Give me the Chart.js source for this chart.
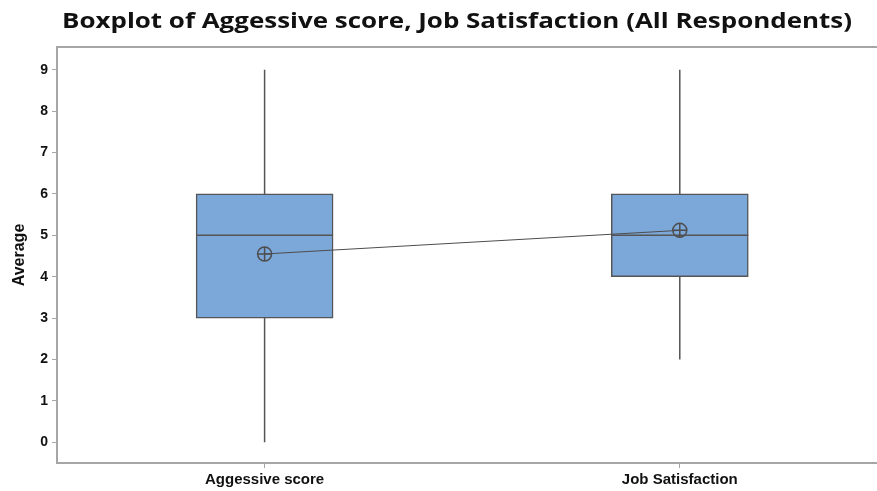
<!DOCTYPE html>
<html>
<head>
<meta charset="utf-8">
<script src="https://cdn.jsdelivr.net/npm/chart.js@4/dist/chart.umd.min.js"></script>
<style>
  html, body { margin: 0; padding: 0; background: #fff; }
  canvas { display: block; }
</style>
</head>
<body>
<canvas id="box" width="877" height="491"></canvas>
<script>
// Boxplot summary values
const categories  = ['Aggessive score', 'Job Satisfaction'];
const whiskerLow  = [0, 2];
const q1          = [3, 4];
const medians     = [5, 5];
const q3          = [6, 6];
const whiskerHigh = [9, 9];
const means       = [4.55, 5.12];
const yTicks      = [0, 1, 2, 3, 4, 5, 6, 7, 8, 9];

const TITLE = 'Boxplot of Aggessive score, Job Satisfaction (All Respondents)';

const STYLE = {
  fill:   '#7ba7d9',
  stroke: '#555555',
  frame:  '#a6a6a6',
  text:   '#111111',
  font:   "'Liberation Sans', Arial, sans-serif",
};

const meanPoints = categories.map((c, i) => ({ x: i + 1, y: means[i] }));

// whiskers + median lines, drawn right after the boxes using the bar geometry
const boxExtras = {
  id: 'boxExtras',
  afterDatasetDraw(chart, args) {
    if (args.index !== 2) return;
    const ctx = chart.ctx;
    const y = chart.scales.y;
    const meta = chart.getDatasetMeta(2);
    ctx.save();
    ctx.strokeStyle = STYLE.stroke;
    ctx.lineWidth = 1.5;
    meta.data.forEach((bar, i) => {
      const half = bar.width / 2;
      ctx.beginPath();
      ctx.moveTo(bar.x, y.getPixelForValue(q3[i]));
      ctx.lineTo(bar.x, y.getPixelForValue(whiskerHigh[i]));
      ctx.moveTo(bar.x, y.getPixelForValue(q1[i]));
      ctx.lineTo(bar.x, y.getPixelForValue(whiskerLow[i]));
      const my = y.getPixelForValue(medians[i]);
      ctx.moveTo(bar.x - half, my);
      ctx.lineTo(bar.x + half, my);
      ctx.stroke();
    });
    ctx.restore();
  }
};

// top frame line and the (wide) title
const frame = {
  id: 'frame',
  afterDraw(chart) {
    const { ctx, chartArea } = chart;
    ctx.save();
    ctx.strokeStyle = STYLE.frame;
    ctx.lineWidth = 2;
    ctx.beginPath();
    ctx.moveTo(chartArea.left, chartArea.top);
    ctx.lineTo(chart.width, chartArea.top);
    ctx.stroke();

    ctx.fillStyle = STYLE.text;
    ctx.font = "bold 22px 'Open Sans', sans-serif";
    ctx.textAlign = 'left';
    ctx.textBaseline = 'alphabetic';
    const w = ctx.measureText(TITLE).width;
    const sx = 790 / w;
    ctx.translate(62, 28);
    ctx.scale(sx, 1);
    ctx.fillText(TITLE, 0, 0);
    ctx.restore();
  }
};

new Chart(document.getElementById('box'), {
  type: 'bar',
  data: {
    datasets: [
      {
        type: 'line',
        data: meanPoints,
        borderColor: '#4d4d4d',
        borderWidth: 1,
        pointStyle: 'circle',
        pointRadius: 7,
        pointBorderWidth: 1.5,
        pointBorderColor: '#4d4d4d',
        pointBackgroundColor: 'rgba(0,0,0,0)',
        order: 0,
      },
      {
        type: 'line',
        data: meanPoints,
        showLine: false,
        pointStyle: 'cross',
        pointRadius: 7,
        pointBorderWidth: 1.5,
        pointBorderColor: '#4d4d4d',
        order: 0,
      },
      {
        type: 'bar',
        data: categories.map((c, i) => ({ x: i + 1, y: [q1[i], q3[i]] })),
        backgroundColor: STYLE.fill,
        borderColor: STYLE.stroke,
        borderWidth: 1.5,
        borderSkipped: false,
        barThickness: 137,
        order: 2,
      }
    ]
  },
  options: {
    responsive: false,
    animation: false,
    layout: { autoPadding: false, padding: { top: 47, right: 0, left: 0, bottom: 0 } },
    plugins: {
      legend: { display: false },
      tooltip: { enabled: false },
      title: { display: false },
    },
    scales: {
      x: {
        type: 'linear',
        min: 0.5,
        max: 2.475,
        offset: false,
        afterBuildTicks: s => { s.ticks = categories.map((c, i) => ({ value: i + 1 })); },
        afterFit: s => { s.height = 28; },
        ticks: {
          callback: v => categories[v - 1] || '',
          color: STYLE.text,
          font: { family: STYLE.font, size: 15, weight: 'bold' },
          padding: 3,
          maxRotation: 0,
        },
        grid: { offset: false, drawOnChartArea: false, drawTicks: true, tickLength: 5, color: STYLE.frame },
        border: { color: STYLE.frame, width: 2 },
      },
      y: {
        min: -0.5,
        max: 9.55,
        afterBuildTicks: s => { s.ticks = yTicks.map(v => ({ value: v })); },
        afterFit: s => { s.width = 57; },
        ticks: {
          color: STYLE.text,
          font: { family: STYLE.font, size: 14, weight: 'bold' },
          padding: 4,
        },
        title: {
          display: true,
          text: 'Average',
          color: STYLE.text,
          font: { family: STYLE.font, size: 16, weight: 'bold' },
          padding: { top: 10, bottom: 0 },
        },
        grid: { drawOnChartArea: false, drawTicks: true, tickLength: 5, color: STYLE.frame },
        border: { color: STYLE.frame, width: 2 },
      }
    }
  },
  plugins: [boxExtras, frame]
});
</script>
</body>
</html>
